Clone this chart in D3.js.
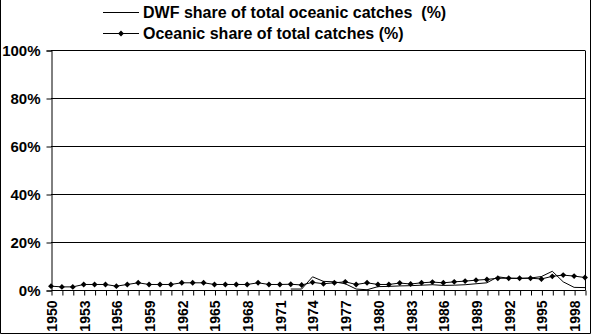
<!DOCTYPE html>
<html>
<head>
<meta charset="utf-8">
<script src="https://cdn.jsdelivr.net/npm/d3@7"></script>
<style>
  body { margin: 0; background: #fff; }
  svg { display: block; }
  text { font-family: "Liberation Sans", Arial, sans-serif; fill: #000; font-weight: bold; white-space: pre; }
</style>
</head>
<body>
<div id="chart-area"></div>
<script>
const years = d3.range(1950, 2000);

const oceanicShare = [
    1.6, 1.3, 1.3, 2.3, 2.3, 2.3, 1.6, 2.3, 3.0, 2.3,
    2.3, 2.3, 3.0, 3.0, 3.0, 2.3, 2.3, 2.3, 2.3, 3.0,
    2.3, 2.3, 2.4, 2.1, 3.2, 2.6, 3.0, 3.4, 2.3, 3.0,
    2.3, 2.3, 2.9, 2.5, 3.0, 3.3, 3.0, 3.4, 3.7, 4.1,
    4.4, 4.9, 4.9, 4.9, 4.9, 4.6, 5.7, 6.2, 5.8, 5.2
];

// DWF series only starts in 1972
const dwfShare = [
    null, null, null, null, null, null, null, null, null, null,
    null, null, null, null, null, null, null, null, null, null,
    null, null, 0.4, 0.4, 5.5, 3.6, 3.4, 2.6, 0.4, 0.1,
    1.4, 1.5, 1.7, 1.8, 2.0, 2.2, 1.9, 2.0, 2.2, 2.6,
    3.0, 5.5, 4.9, 4.8, 5.0, 5.6, 7.8, 3.4, 1.1, 1.0
];

const yTicks = [0, 20, 40, 60, 80, 100];
const xLabelYears = d3.range(1950, 2000, 3);

const legendLabels = [
    "DWF share of total oceanic catches  (%)",
    "Oceanic share of total catches (%)"
];

const chartSize = { width: 592, height: 335 };
const plot = { left: 51, right: 585, top: 50, bottom: 290 };

const svg = d3.select("#chart-area")
    .append("svg")
    .attr("width", chartSize.width)
    .attr("height", chartSize.height);

// outer frame
svg.append("path")
    .attr("d", `M0.5,0 V333.5 H590.5 V0`)
    .attr("fill", "none")
    .attr("stroke", "#000");

const x = d3.scalePoint()
    .domain(years)
    .range([plot.left, plot.right]);

const y = d3.scaleLinear()
    .domain([0, 100])
    .range([plot.bottom, plot.top]);

const g = svg.append("g");

// gridlines
g.selectAll(".grid")
    .data(yTicks.filter(d => d > 0))
    .join("line")
    .attr("x1", plot.left)
    .attr("x2", plot.right)
    .attr("y1", d => Math.round(y(d)) + 0.5)
    .attr("y2", d => Math.round(y(d)) + 0.5)
    .attr("stroke", "#000");

// right border of plot
g.append("line")
    .attr("x1", plot.right + 0.5).attr("x2", plot.right + 0.5)
    .attr("y1", Math.round(y(100)) + 0.5).attr("y2", plot.bottom + 0.5)
    .attr("stroke", "#000");

// y axis
const yAxis = d3.axisLeft(y)
    .tickValues(yTicks)
    .tickFormat(d => d + "%")
    .tickSize(5)
    .tickPadding(6);

g.append("g")
    .attr("transform", `translate(${plot.left + 0.5},0.5)`)
    .call(yAxis)
    .call(a => a.selectAll("path, line").attr("stroke", "#000"))
    .call(a => a.selectAll("text").style("font-size", "15px"));

// x axis
const xAxis = d3.axisBottom(x)
    .tickValues(years)
    .tickFormat(d => xLabelYears.includes(d) ? d : "")
    .tickSizeOuter(0)
    .tickSize(5);

g.append("g")
    .attr("transform", `translate(0.5,${plot.bottom + 0.5})`)
    .call(xAxis)
    .call(a => a.select(".domain").attr("d", `M${plot.left},0H${plot.right}`))
    .call(a => a.selectAll("line").attr("stroke", "#000"))
    .call(a => a.selectAll("text")
        .style("font-size", "14px")
        .attr("text-anchor", "end")
        .attr("dy", "0.35em")
        .attr("transform", "rotate(-90)")
        .attr("x", -10)
        .attr("y", 0));

// series
const line = d3.line()
    .defined(d => d.v !== null)
    .x(d => x(d.year))
    .y(d => y(d.v));

const dwfData = years.map((year, i) => ({ year, v: dwfShare[i] }));
const oceanicData = years.map((year, i) => ({ year, v: oceanicShare[i] }));

g.append("path")
    .attr("d", line(dwfData))
    .attr("fill", "none")
    .attr("stroke", "#000")
    .attr("stroke-width", 1);

g.append("path")
    .attr("d", line(oceanicData))
    .attr("fill", "none")
    .attr("stroke", "#000")
    .attr("stroke-width", 1);

const diamond = d3.symbol().type(d3.symbolDiamond2).size(22);

g.selectAll(".marker")
    .data(oceanicData)
    .join("path")
    .attr("transform", d => `translate(${x(d.year)},${y(d.v)})`)
    .attr("d", diamond)
    .attr("fill", "#000");

// legend
const legend = svg.append("g");
const legendRows = [12, 33];

legend.selectAll(".lg-line")
    .data(legendRows)
    .join("line")
    .attr("x1", 103).attr("x2", 139)
    .attr("y1", d => d + 0.5).attr("y2", d => d + 0.5)
    .attr("stroke", "#000");

legend.append("path")
    .attr("transform", `translate(121,${legendRows[1] + 0.5})`)
    .attr("d", diamond)
    .attr("fill", "#000");

legend.selectAll(".lg-text")
    .data(legendLabels)
    .join("text")
    .attr("x", 143)
    .attr("y", (d, i) => legendRows[i] + 5.5)
    .style("font-size", "16px")
    .text(d => d);
</script>
</body>
</html>
